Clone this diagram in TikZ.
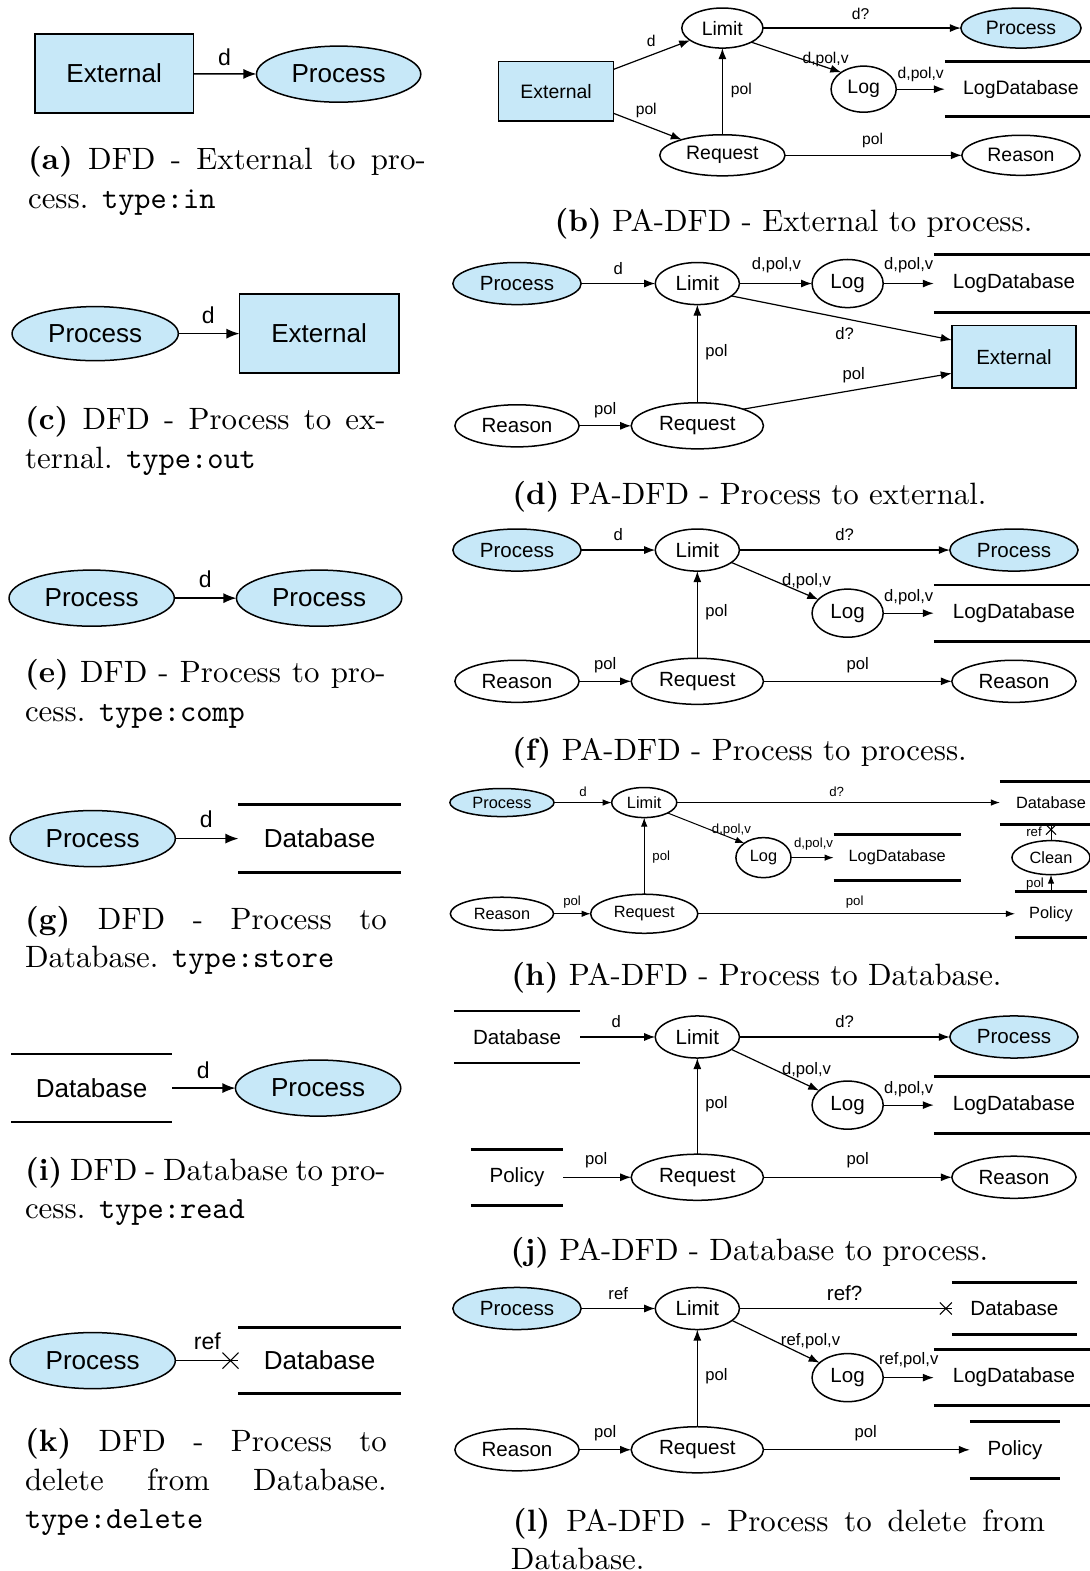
\documentclass[tikz,border=0pt]{standalone}
\usepackage{fontspec}
\usepackage{graphicx}
\newfontfamily\hv{Liberation Sans}
\usetikzlibrary{shapes.geometric,shapes.misc,arrows.meta}
\definecolor{dfdblue}{RGB}{199,232,248}

\tikzset{
  every node/.style={inner sep=0pt, outer sep=0pt},
  fA/.style={font=\hv\fontsize{26}{30}\selectfont},
  lA/.style={font=\hv\fontsize{23}{26}\selectfont},
  fB/.style={font=\hv\fontsize{19.4}{22}\selectfont},
  lB/.style={font=\hv\fontsize{15.6}{18}\selectfont},
  fD/.style={font=\hv\fontsize{20.5}{24}\selectfont},
  lD/.style={font=\hv\fontsize{16.6}{19}\selectfont},
  fH/.style={font=\hv\fontsize{16.3}{19}\selectfont},
  lH/.style={font=\hv\fontsize{13.2}{15}\selectfont},
  pr/.style 2 args={ellipse, draw, line width=1.5pt, minimum width=#1pt, minimum height=#2pt},
  pb/.style 2 args={pr={#1}{#2}, fill=dfdblue},
  ex/.style 2 args={rectangle, draw, line width=1.6pt, fill=dfdblue, minimum width=#1pt, minimum height=#2pt},
  st/.style 2 args={minimum width=#1pt, minimum height=#2pt},
  stline/.style={line width=2.6pt},
  arr/.style={-{Latex[length=11pt,width=8pt]}, line width=1.2pt},
  arrA/.style={-{Latex[length=13pt,width=10pt]}, line width=1.4pt},
  arrH/.style={-{Latex[length=9pt,width=6.5pt]}, line width=1pt},
  plain/.style={line width=1.2pt},
  xend/.style={cross out, draw, line width=1.1pt, minimum size=#1pt, pos=1},
}
% store: two horizontal bars above and below the label
\newcommand\storebars[1]{\draw[stline] (#1.north west) -- (#1.north east) (#1.south west) -- (#1.south east);}
% captions are set at 10pt and magnified, so the 10pt design of the font is used
\newcommand\capfont{\fontsize{10}{12}\selectfont}
\newcommand\capmag{3.08}
\newcommand\capline[4]{\node[anchor=base west] (#1) at (#2,#3) {\scalebox{\capmag}{\capfont #4}};}
\newcommand\capjust[5]{\node[anchor=base west] (#1) at (#2,#3)
  {\scalebox{\capmag}{\capfont\makebox[\dimexpr #4pt*100/308\relax][s]{#5}}};}
\newcommand\capmid[4]{\node[anchor=base] (#1) at (#2,#3) {\scalebox{\capmag}{\capfont #4}};}

\begin{document}
\begin{tikzpicture}[x=1pt,y=-1pt]
\useasboundingbox (0,0) rectangle (1087,1568);

% ---------- (a) external to process
\node[ex={158}{79}, fA] (aE) at (114,73.5) {External};
\node[pb={164}{56}, fA] (aP) at (338,74) {Process};
\draw[arrA] (aE) -- (aP);
\node[lA] (aL) at (224,57) {d};
\capjust{cA1}{28}{169}{397}{\textbf{(a)} DFD - External to pro-}
\capline{cA2}{28}{208}{cess. \texttt{type:in}}

% ---------- (c) process to external
\node[pb={166}{54}, fA] (cP) at (95,333) {Process};
\node[ex={159}{79}, fA] (cE) at (318.5,333) {External};
\draw[arrA] (cP) -- (cE);
\node[lA] (cL) at (208,315) {d};
\capjust{cC1}{25}{429}{360}{\textbf{(c)} DFD - Process to ex-}
\capline{cC2}{25}{468}{ternal. \texttt{type:out}}

% ---------- (e) process to process
\node[pb={165}{56}, fA] (eP) at (91.5,597) {Process};
\node[pb={165}{56}, fA] (eQ) at (318.5,597) {Process};
\draw[arrA] (eP) -- (eQ);
\node[lA] (eL) at (205,578) {d};
\capjust{cE1}{25}{681}{360}{\textbf{(e)} DFD - Process to pro-}
\capline{cE2}{25}{720}{cess. \texttt{type:comp}}

% ---------- (g) process to database
\node[pb={165}{56}, fA] (gP) at (92.5,837) {Process};
\node[st={162}{68}, fA] (gD) at (319,837) {Database};
\storebars{gD}
\draw[arrA] (gP) -- (gD);
\node[lA] (gL) at (206,818) {d};
\capjust{cG1}{25}{928}{361}{\textbf{(g)} DFD - Process to}
\capline{cG2}{25}{966}{Database. \texttt{type:store}}

% ---------- (i) database to process
\node[st={161}{68}, fA] (iD) at (91.5,1086) {Database};
\storebars{iD}
\node[pb={165}{56}, fA] (iP) at (317.5,1086) {Process};
\draw[arrA] (iD) -- (iP);
\node[lA] (iL) at (203,1068) {d};
\capjust{cI1}{25}{1178}{360}{\textbf{(i)} DFD - Database to pro-}
\capline{cI2}{25}{1216}{cess. \texttt{type:read}}

% ---------- (k) process deletes from database
\node[pb={165}{56}, fA] (kP) at (92.5,1358) {Process};
\node[st={162}{66}, fA] (kD) at (319,1358) {Database};
\storebars{kD}
\draw[plain] (kP) -- node[xend=16, anchor=east] (kX) {} (kD);
\node[lA] (kL) at (207,1339) {ref};
\capjust{cK1}{25}{1449}{361}{\textbf{(k)} DFD - Process to}
\capjust{cK2}{25}{1488}{361}{delete from Database.}
\capline{cK3}{25}{1526}{\texttt{type:delete}}

% ---------- (b) PA-DFD external to process
\node[ex={115}{59}, fB] (bE) at (555,91) {External};
\node[pr={81}{40}, fB] (bL) at (721,28) {Limit};
\node[pb={120}{40}, fB] (bP) at (1019,28) {Process};
\node[pr={65}{46}, fB] (bG) at (862,89) {Log};
\node[st={152}{55}, fB] (bD) at (1019,89) {LogDatabase};
\storebars{bD}
\node[pr={125}{41}, fB] (bR) at (721,155) {Request};
\node[pr={118}{40}, fB] (bS) at (1019,155) {Reason};
\draw[arr] (bE) -- (bL);
\draw[arr] (bE) -- (bR);
\draw[arr] (bR) -- (bL);
\draw[arr] (bL) -- (bP);
\draw[arr] (bL.-26) -- (bG.143);
\draw[arr] (bG) -- (bD);
\draw[arr] (bR) -- (bS);
\node[lB] (bl1) at (650,41) {d};
\node[lB] (bl2) at (645,110) {pol};
\node[lB] (bl3) at (740,90) {pol};
\node[lB] (bl4) at (859,14) {d?};
\node[lB] (bl5) at (824,59) {d,pol,v};
\node[lB] (bl6) at (919,74) {d,pol,v};
\node[lB] (bl7) at (871,140) {pol};
\capmid{cB}{792}{231}{\textbf{(b)} PA-DFD - External to process.}

% ---------- (d) PA-DFD process to external
\node[pb={128}{42}, fD] (dP) at (516,283) {Process};
\node[pr={84}{42}, fD] (dL) at (696,283) {Limit};
\node[pr={71}{48}, fD] (dG) at (846,283) {Log};
\node[st={160}{58}, fD] (dD) at (1012,283) {LogDatabase};
\storebars{dD}
\node[ex={124}{62}, fD] (dE) at (1012,356) {External};
\node[pr={132}{46}, fD] (dR) at (696,425) {Request};
\node[pr={124}{42}, fD] (dS) at (516,425) {Reason};
\draw[arr] (dP) -- (dL);
\draw[arr] (dL) -- (dG);
\draw[arr] (dG) -- (dD);
\draw[arr] (dL.-20) -- (dE.165);
\draw[arr] (dR) -- (dL);
\draw[arr] (dR.20) -- (dE.195);
\draw[arr] (dS) -- (dR);
\node[lD] (dl1) at (617,268) {d};
\node[lD] (dl2) at (775,265) {d,pol,v};
\node[lD] (dl3) at (907,265) {d,pol,v};
\node[lD] (dl4) at (843,333) {d?};
\node[lD] (dl5) at (715,352) {pol};
\node[lD] (dl6) at (852,374) {pol};
\node[lD] (dl7) at (604,409) {pol};
\capmid{cD}{748}{504}{\textbf{(d)} PA-DFD - Process to external.}

% ---------- (f) PA-DFD process to process
\node[pb={128}{42}, fD] (fP) at (516,549) {Process};
\node[pr={84}{42}, fD] (fL) at (696,549) {Limit};
\node[pb={128}{42}, fD] (fQ) at (1012,549) {Process};
\node[pr={71}{48}, fD] (fG) at (846,612) {Log};
\node[st={160}{56}, fD] (fD) at (1012,612) {LogDatabase};
\storebars{fD}
\node[pr={132}{46}, fD] (fR) at (696,680) {Request};
\node[pr={124}{42}, fD] (fS) at (516,680) {Reason};
\node[pr={124}{42}, fD] (fT) at (1012,680) {Reason};
\draw[arr] (fP) -- (fL);
\draw[arr] (fL) -- (fQ);
\draw[arr] (fL.-20) -- (fG.155);
\draw[arr] (fG) -- (fD);
\draw[arr] (fR) -- (fL);
\draw[arr] (fS) -- (fR);
\draw[arr] (fR) -- (fT);
\node[lD] (fl1) at (617,534) {d};
\node[lD] (fl2) at (843,534) {d?};
\node[lD] (fl3) at (805,580) {d,pol,v};
\node[lD] (fl4) at (907,596) {d,pol,v};
\node[lD] (fl5) at (715,611) {pol};
\node[lD] (fl6) at (604,664) {pol};
\node[lD] (fl7) at (856,664) {pol};
\capmid{cF}{738}{759}{\textbf{(f)} PA-DFD - Process to process.}

% ---------- (h) PA-DFD process to database
\node[pb={104}{28}, fH] (hP) at (501,801) {Process};
\node[pr={65}{30}, fH] (hL) at (643,801) {Limit};
\node[st={102}{43}, fH] (hB) at (1049,801.5) {Database};
\storebars{hB}
\node[pr={55}{40}, fH] (hG) at (762,856) {Log};
\node[st={127}{46}, fH] (hD) at (895.5,856) {LogDatabase};
\storebars{hD}
\node[pr={78}{34}, fH] (hC) at (1049,856) {Clean};
\node[st={72}{46}, fH] (hY) at (1049,913) {Policy};
\storebars{hY}
\node[pr={107}{39}, fH] (hR) at (643,912) {Request};
\node[pr={103}{33}, fH] (hS) at (501,912) {Reason};
\draw[arrH] (hP) -- (hL);
\draw[arrH] (hL) -- (hL -| hB.west);
\draw[arrH] (hL.-24) -- (hG.143);
\draw[arrH] (hG) -- (hD);
\draw[arrH] (hR) -- (hL);
\draw[arrH] (hS) -- (hR);
\draw[arrH] (hR) -- (hR -| hY.west);
\draw[arrH] (hY) -- (hC);
\draw[line width=1pt] (hC) -- node[xend=10, anchor=north] (hX) {} (hB);
\node[lH] (hl1) at (582,790) {d};
\node[lH] (hl2) at (835,790) {d?};
\node[lH] (hl3) at (730,828) {d,pol,v};
\node[lH] (hl4) at (812,842) {d,pol,v};
\node[lH] (hl5) at (660,855) {pol};
\node[lH] (hl6) at (571,900) {pol};
\node[lH] (hl7) at (853,900) {pol};
\node[lH] (hl8) at (1032,830) {ref};
\node[lH] (hl9) at (1033,882) {pol};
\capmid{cH}{755}{984}{\textbf{(h)} PA-DFD - Process to Database.}

% ---------- (j) PA-DFD database to process
\node[st={126}{52}, fD] (jB) at (516,1035) {Database};
\storebars{jB}
\node[pr={84}{42}, fD] (jL) at (696,1035) {Limit};
\node[pb={128}{42}, fD] (jQ) at (1012,1035) {Process};
\node[pr={71}{48}, fD] (jG) at (846,1103) {Log};
\node[st={160}{57}, fD] (jD) at (1012,1103) {LogDatabase};
\storebars{jD}
\node[st={92}{56}, fD] (jY) at (516,1175) {Policy};
\storebars{jY}
\node[pr={132}{46}, fD] (jR) at (696,1175) {Request};
\node[pr={124}{42}, fD] (jT) at (1012,1175) {Reason};
\draw[arr] (jB) -- (jL);
\draw[arr] (jL) -- (jQ);
\draw[arr] (jL.-20) -- (jG.153);
\draw[arr] (jG) -- (jD);
\draw[arr] (jR) -- (jL);
\draw[arr] (jY) -- (jR);
\draw[arr] (jR) -- (jT);
\node[lD] (jl1) at (615,1020) {d};
\node[lD] (jl2) at (843,1020) {d?};
\node[lD] (jl3) at (805,1068) {d,pol,v};
\node[lD] (jl4) at (907,1087) {d,pol,v};
\node[lD] (jl5) at (715,1102) {pol};
\node[lD] (jl6) at (595,1158) {pol};
\node[lD] (jl7) at (856,1158) {pol};
\capmid{cJ}{748}{1258}{\textbf{(j)} PA-DFD - Database to process.}

% ---------- (l) PA-DFD process deletes from database
\node[pb={128}{42}, fD] (lP) at (516,1306) {Process};
\node[pr={84}{42}, fD] (lL) at (696,1306) {Limit};
\node[st={125}{52}, fD] (lB) at (1012.5,1306) {Database};
\storebars{lB}
\node[pr={71}{48}, fD] (lG) at (846,1375) {Log};
\node[st={160}{56}, fD] (lD) at (1012,1375) {LogDatabase};
\storebars{lD}
\node[pr={124}{42}, fD] (lS) at (516,1447) {Reason};
\node[pr={132}{46}, fD] (lR) at (696,1447) {Request};
\node[st={90}{57}, fD] (lY) at (1013,1447) {Policy};
\storebars{lY}
\draw[arr] (lP) -- (lL);
\draw[plain] (lL) -- node[xend=12, anchor=east] (lX) {} (lB);
\draw[arr] (lL.-19) -- (lG.152);
\draw[arr] (lG) -- (lD);
\draw[arr] (lR) -- (lL);
\draw[arr] (lS) -- (lR);
\draw[arr] (lR) -- (lY);
\node[lD] (ll1) at (617,1291) {ref};
\node[fD] (ll2) at (843,1291) {ref?};
\node[lD] (ll3) at (809,1339) {ref,pol,v};
\node[lD] (ll4) at (907,1358) {ref,pol,v};
\node[lD] (ll5) at (715,1374) {pol};
\node[lD] (ll6) at (604,1430) {pol};
\node[lD] (ll7) at (864,1430) {pol};
\capjust{cL1}{512}{1529}{531}{\textbf{(l)} PA-DFD - Process to delete from}
\capline{cL2}{510}{1566}{Database.}

\end{tikzpicture}
\end{document}
